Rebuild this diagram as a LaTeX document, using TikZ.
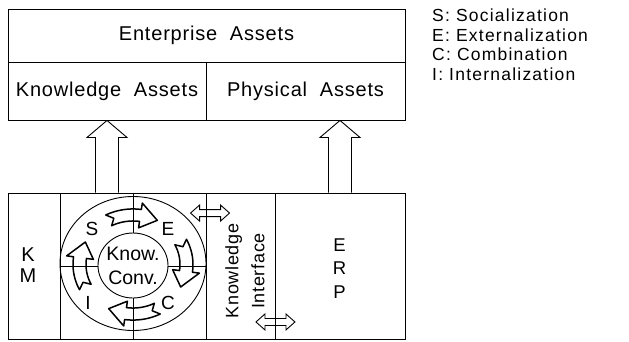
\documentclass[tikz,border=0pt]{standalone}
\usepackage{fontspec}
\setmainfont{Liberation Sans}
\newfontfamily\lblfont[LetterSpace=4,WordSpace=2]{Liberation Sans}
\newfontfamily\legfont[LetterSpace=7]{Liberation Sans}
\usetikzlibrary{calc,shapes.geometric}
\newcommand{\ringarrow}[1]{%
  \draw[carrow] plot[domain={#1-27}:{#1+8}, samples=15] ({60*cos(\x)},{60*sin(\x)})
    -- ({#1+8}:67) -- ({#1+27}:53.5) -- ({#1+8}:40)
    -- plot[domain={#1+8}:{#1-27}, samples=15] ({47*cos(\x)},{47*sin(\x)})
    -- ({#1-21}:53.5) -- cycle;}
\newcommand{\uparrowhollow}[2]{%
  \draw[harrow] ($(#2)+(-11.5,0)$) -- ($(#1)+(-11.5,17)$) -- ($(#1)+(-20,17)$) -- (#1)
    -- ($(#1)+(20,17)$) -- ($(#1)+(11.5,17)$) -- ($(#2)+(11.5,0)$);}
\newcommand{\dblarrow}[1]{%
  \draw[harrow] ($(#1)+(-19.5,0)$) -- ($(#1)+(-10.5,-8)$) -- ($(#1)+(-10.5,-3.5)$)
    -- ($(#1)+(10.5,-3.5)$) -- ($(#1)+(10.5,-8)$) -- ($(#1)+(19.5,0)$)
    -- ($(#1)+(10.5,8)$) -- ($(#1)+(10.5,3.5)$) -- ($(#1)+(-10.5,3.5)$)
    -- ($(#1)+(-10.5,8)$) -- cycle;}
\begin{document}
\begin{tikzpicture}[x=1pt,y=-1pt,
  box/.style={draw, line width=0.9pt, inner sep=0pt, align=center,
    font=\lblfont\fontsize{20}{24}\selectfont},
  lbl/.style={inner sep=0pt, align=center, font=\fontsize{19}{23}\selectfont},
  leg/.style={inner sep=0pt, anchor=west, font=\legfont\fontsize{17.5}{19}\selectfont},
  ln/.style={line width=0.9pt},
  carrow/.style={line width=1.5pt, line join=round},
  harrow/.style={line width=0.9pt, line join=miter}]
\useasboundingbox (0,0) rectangle (629,341);
% top boxes
\node[box, minimum width=397, minimum height=53] (ent) at (206.5,35.5) {Enterprise Assets};
\node[box, minimum width=198, minimum height=58] (ka) at (107,91) {Knowledge Assets};
\node[box, minimum width=199, minimum height=58] (pa) at (305.5,91) {Physical Assets};
% bottom boxes
\node[box, minimum width=52, minimum height=146] (km) at (34,266) {};
\node[box, minimum width=146, minimum height=146] (kc) at (133,266) {};
\node[box, minimum width=69, minimum height=146] (ki) at (240.5,266) {};
\node[box, minimum width=130, minimum height=146] (erp) at (340,266) {};
\node[lbl, font=\fontsize{20}{20.5}\selectfont] (kmtext) at (28,265) {K\\M};
\node[lbl, font=\fontsize{18.5}{23.5}\selectfont] (erptext) at (339.5,268.5) {E\\R\\P};
\node[lbl, rotate=90, font=\lblfont\fontsize{18}{26}\selectfont] (kitext) at (245,271) {Knowledge\\Interface};
% ring
\node[draw, ellipse, line width=0.9pt, inner sep=0pt, minimum width=146, minimum height=134] (ring) at (133,263.5) {};
\node[draw, ellipse, line width=0.9pt, inner sep=0pt, minimum width=70, minimum height=65] (conv) at (133,265.5) {};
\node[lbl, font=\fontsize{19.5}{24}\selectfont] (convtext) at (133,265.5) {Know.\\Conv.};
\draw[ln] (kc.north) -- (conv.north);
\draw[ln] (conv.south) -- (kc.south);
\draw[ln] (kc.west) -- (kc.west -| conv.west);
\draw[ln] (kc.east -| conv.east) -- (kc.east);
\node[lbl] (sS) at (92,229) {S};
\node[lbl] (sE) at (168,229) {E};
\node[lbl] (sI) at (88,303) {I};
\node[lbl] (sC) at (168,303) {C};
\begin{scope}[shift={(133,264.5)}, yscale=0.926]
  \ringarrow{-90}
  \ringarrow{0}
  \ringarrow{90}
  \ringarrow{180}
\end{scope}
% up arrows
\coordinate (kaTip) at (ka.south);
\coordinate (kaBase) at (ka.south |- kc.north);
\coordinate (paTip) at (erp.north |- pa.south);
\coordinate (paBase) at (erp.north);
\uparrowhollow{kaTip}{kaBase}
\uparrowhollow{paTip}{paBase}
% double arrows
\coordinate (dTop) at ($(ki.north west)+(4.5,20.5)$);
\coordinate (dBot) at ($(ki.south east)+(0,-17.5)$);
\dblarrow{dTop}
\dblarrow{dBot}
% legend
\node[leg] (lS) at (432,15.5) {S: Socialization};
\node[leg] (lE) at (432,35) {E: Externalization};
\node[leg] (lC) at (432,54.5) {C: Combination};
\node[leg] (lI) at (432,74) {I: Internalization};
\end{tikzpicture}
\end{document}
